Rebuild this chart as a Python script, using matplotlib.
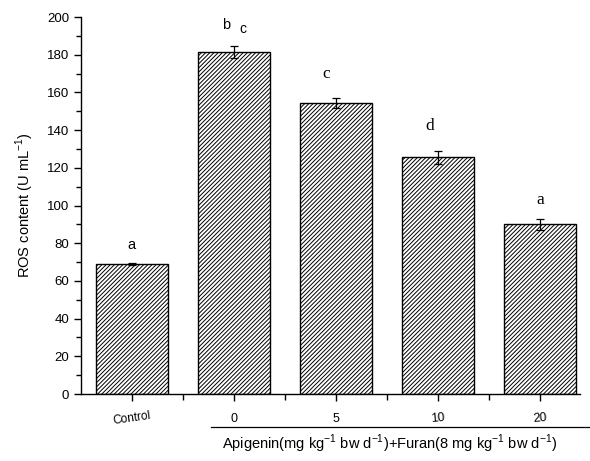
import numpy as np
import matplotlib.pyplot as plt
from matplotlib.ticker import MultipleLocator, FixedLocator

plt.rcParams['font.family'] = ['Liberation Sans', 'DejaVu Sans']
plt.rcParams['hatch.linewidth'] = 0.7

groups = ["Control", "0", "5", "10", "20"]
ros = [68.8, 181.5, 154.5, 125.5, 90.0]
ros_err = [0.5, 3.0, 2.5, 3.5, 3.0]

fig = plt.figure(figsize=(5.9, 4.61), dpi=100)
ax = fig.add_axes([0.137, 0.1453, 0.846, 0.8177])

x = np.arange(len(groups))
ax.bar(x, ros, width=0.7, color="white", edgecolor="black", linewidth=1.0,
       hatch="////////")
ax.errorbar(x, ros, yerr=ros_err, fmt="none", ecolor="black",
            elinewidth=0.9, capsize=3, capthick=0.9)

# significance letters
sans = ["Liberation Sans", "DejaVu Sans"]
serif = ["Liberation Serif", "DejaVu Serif"]
ax.text(0, 79, "a", ha="center", va="center", fontsize=10.5, family=sans)
ax.text(0.92, 196, "b", ha="center", va="center", fontsize=10.5, family=sans)
ax.text(1.09, 193.5, "c", ha="center", va="center", fontsize=10, family=sans)
ax.text(1.9, 170, "c", ha="center", va="center", fontsize=12.5, family=serif)
ax.text(2.92, 142, "d", ha="center", va="center", fontsize=12.5, family=serif)
ax.text(4.0, 103, "a", ha="center", va="center", fontsize=12.5, family=serif)

ax.set_xlim(-0.5, 4.39)
ax.set_ylim(0, 200)
ax.yaxis.set_major_locator(MultipleLocator(20))
ax.yaxis.set_minor_locator(MultipleLocator(10))
ax.set_xticks(x)
ax.set_xticklabels([])
ax.xaxis.set_minor_locator(FixedLocator(x[:-1] + 0.5))
ax.tick_params(axis="both", which="both", direction="out", width=1.0)
ax.tick_params(axis="both", which="major", length=5, labelsize=9.5)
ax.tick_params(axis="both", which="minor", length=3.5)
ax.tick_params(axis="x", which="minor", length=4)
for s in ["top", "right"]:
    ax.spines[s].set_visible(False)
for s in ["left", "bottom"]:
    ax.spines[s].set_linewidth(1.0)

# tick labels
for xi, g in zip(x, groups):
    rot = 8 if g == "Control" else (5 if g in ("10", "20") else 0)
    ax.text(xi, -13, g, ha="center", va="center",
            fontsize=8.5 if g == "Control" else 9,
            rotation=rot, clip_on=False)

# group line and label
ax.plot([0.78, 4.5], [-17.5, -17.5], color="black", linewidth=0.9, clip_on=False)
ax.text(2.52, -26.5,
        r"Apigenin(mg kg$^{\mathregular{-1}}$ bw d$^{\mathregular{-1}}$)+Furan(8 mg kg$^{\mathregular{-1}}$ bw d$^{\mathregular{-1}}$)",
        ha="center", va="center", fontsize=10.5, clip_on=False)

ax.set_ylabel(r"ROS content (U mL$^{\mathregular{-1}}$)", fontsize=10.5, labelpad=8)

fig.savefig("out.png", dpi=100)
